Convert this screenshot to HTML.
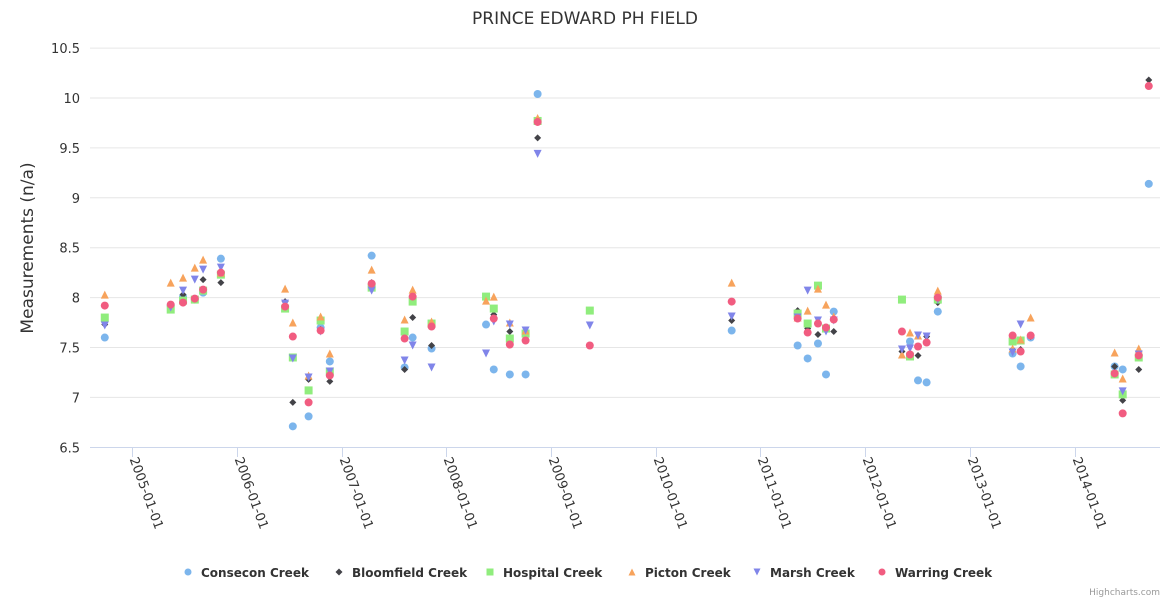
<!DOCTYPE html>
<html><head><meta charset="utf-8"><style>
body{margin:0;background:#fff;font-family:"DejaVu Sans","Liberation Sans",sans-serif}
svg{display:block}
text{font-family:"DejaVu Sans","Liberation Sans",sans-serif}
</style></head><body>
<svg id="chart" width="1170" height="600" xmlns="http://www.w3.org/2000/svg">
<rect width="1170" height="600" fill="#fff"/>
<text x="585" y="24" text-anchor="middle" font-size="17" fill="#333">PRINCE EDWARD PH FIELD</text>
<text transform="translate(33,248) rotate(-90)" text-anchor="middle" font-size="17" fill="#333">Measurements (n/a)</text>
<g id="grid"></g><g id="xaxis"></g><g id="marks"></g><g id="legend"></g>
<text x="1160" y="595" text-anchor="end" font-size="9" fill="#999">Highcharts.com</text>
</svg>
<script>
const dates=["2004-09-27","2005-05-15","2005-06-27","2005-08-07","2005-09-05","2005-11-06","2006-06-18","2006-07-15","2006-09-08","2006-10-20","2006-11-21","2007-04-16","2007-08-09","2007-09-06","2007-11-11","2008-05-19","2008-06-15","2008-08-10","2008-10-04","2008-11-15","2009-05-16","2010-09-23","2011-05-11","2011-06-15","2011-07-21","2011-08-18","2011-09-14","2012-05-09","2012-06-06","2012-07-04","2012-08-03","2012-09-11","2013-05-30","2013-06-27","2013-08-01","2014-05-21","2014-06-18","2014-08-13","2014-09-17"];
const consecon=[7.60,7.92,8.01,7.98,8.05,8.39,null,6.71,6.81,7.70,7.36,8.42,7.30,7.60,7.49,7.73,7.28,7.23,7.23,10.04,null,7.67,7.52,7.39,7.54,7.23,7.86,null,7.56,7.17,7.15,7.86,7.44,7.31,7.60,7.31,7.28,null,9.14];
const bloomfield=[7.73,7.90,8.03,null,8.18,8.15,7.96,6.95,7.18,7.68,7.16,8.15,7.28,7.80,7.52,null,7.83,7.66,7.66,9.60,7.52,7.77,7.87,7.69,7.63,7.69,7.66,7.46,7.44,7.42,7.61,7.95,7.48,7.48,7.61,7.31,6.97,7.28,10.18];
const hospital=[7.80,7.88,7.97,7.98,8.07,8.23,7.89,7.40,7.07,7.77,7.26,8.10,7.66,7.96,7.74,8.01,7.89,7.59,7.64,9.77,7.87,null,7.84,7.74,8.12,7.69,null,7.98,7.41,null,null,7.98,7.56,7.57,null,7.23,7.03,7.40,null];
const picton=[8.03,8.15,8.20,8.30,8.38,8.25,8.09,7.75,7.22,7.81,7.44,8.28,7.78,8.08,7.76,7.97,8.01,7.75,7.67,9.80,null,8.15,7.80,7.87,8.09,7.93,7.81,7.43,7.65,7.62,null,8.07,7.49,7.58,7.80,7.45,7.19,7.49,null];
const marsh=[7.72,7.90,8.07,8.18,8.28,8.30,7.94,7.39,7.20,7.66,7.26,8.07,7.37,7.52,7.30,7.44,7.76,7.73,7.67,9.44,7.72,7.81,7.80,8.07,7.77,7.66,7.77,7.48,7.49,7.62,7.61,7.98,7.45,7.73,null,null,7.06,7.43,null];
const warring=[7.92,7.93,7.95,7.99,8.08,8.25,7.91,7.61,6.95,7.67,7.22,8.14,7.59,8.01,7.71,null,7.79,7.53,7.57,9.76,7.52,7.96,7.79,7.65,7.74,7.70,7.78,7.66,7.43,7.51,7.55,8.00,7.62,7.46,7.62,7.24,6.84,7.42,10.12];
const seriesNames=["Consecon Creek","Bloomfield Creek","Hospital Creek","Picton Creek","Marsh Creek","Warring Creek"];
const yTicks=[6.5,7,7.5,8,8.5,9,9.5,10,10.5];
const xTickYears=[2005,2006,2007,2008,2009,2010,2011,2012,2013,2014];

const NS="http://www.w3.org/2000/svg";
const T0=Date.UTC(2005,0,1), YEAR=365.25*86400000;
function xScale(t){return 132.3+(t-T0)/YEAR*104.7;}
function yScale(v){return 447.3-(v-6.5)*99.8;}
function mk(tag,attrs,parent){const e=document.createElementNS(NS,tag);for(const k in attrs)e.setAttribute(k,attrs[k]);parent.appendChild(e);return e;}
const grid=document.getElementById('grid'),xa=document.getElementById('xaxis'),marks=document.getElementById('marks'),leg=document.getElementById('legend');
yTicks.forEach(v=>{
  const y=yScale(v);
  if(v>6.5){const l=mk('line',{x1:90,x2:1160,y1:y,y2:y,stroke:'#e6e6e6','stroke-width':1},grid);
  
  }
  const t=mk('text',{x:80,y:y+5,'text-anchor':'end','font-size':13,fill:'#333'},grid);
  t.textContent=String(v);
  
  
});
const ax=mk('line',{x1:90,x2:1160,y1:447.5,y2:447.5,stroke:'#ccd6eb','stroke-width':1},xa);


xTickYears.forEach(yr=>{
  const x=Math.round(xScale(Date.UTC(yr,0,1)))+0.5;
  const tk=mk('line',{x1:x,x2:x,y1:447,y2:457,stroke:'#ccd6eb'},xa);
  
  
  const t=mk('text',{transform:`translate(${x-3},${459}) rotate(70)`,'font-size':13,fill:'#333'},xa);
  t.textContent=yr+'-01-01';
  
  
});
const colors=['#7cb5ec','#434348','#90ed7d','#f7a35c','#8085e9','#f15c80'];
const shapes=['circle','diamond','square','triangle','triangle-down','circle'];
function marker(shape,x,y,c,parent,r){
  r=r||4;
  if(shape==='circle')return mk('circle',{cx:x,cy:y,r:r,fill:c},parent);
  if(shape==='square')return mk('rect',{x:x-r,y:y-r,width:2*r,height:2*r,fill:c},parent);
  let p;
  if(shape==='diamond')p=[[x,y-r],[x+r,y],[x,y+r],[x-r,y]];
  if(shape==='triangle')p=[[x,y-r],[x+r,y+r],[x-r,y+r]];
  if(shape==='triangle-down')p=[[x-r,y-r],[x+r,y-r],[x,y+r]];
  return mk('polygon',{points:p.map(q=>q.join(',')).join(' '),fill:c},parent);
}
const allSeries=[consecon,bloomfield,hospital,picton,marsh,warring];
const keys=['consecon','bloomfield','hospital','picton','marsh','warring'];
allSeries.forEach((vals,si)=>{
  const g=mk('g',{},marks);
  
  
  vals.forEach((v,i)=>{
    if(v===null)return;
    const p=dates[i].split('-').map(Number);
    const x=xScale(Date.UTC(p[0],p[1]-1,p[2])),y=yScale(v);
    const m=marker(shapes[si],x,y,colors[si],g,shapes[si]==='diamond'?3.5:4);
    
    
  });
});
const legX=[188,339,490,632,757,882];
seriesNames.forEach((n,i)=>{
  const g=mk('g',{},leg);
  
  
  marker(shapes[i],legX[i],572,colors[i],g,3.5);
  const t=mk('text',{x:legX[i]+13,y:577,'font-size':12,'font-weight':'bold',fill:'#333'},g);
  t.textContent=n;
});
</script>
</body></html>
